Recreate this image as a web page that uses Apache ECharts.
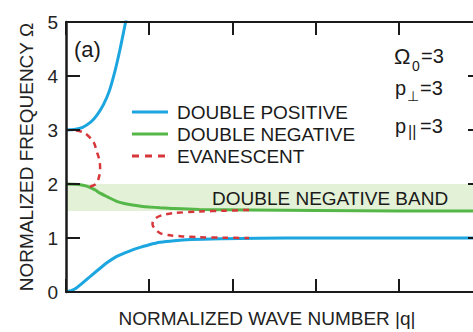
<!DOCTYPE html>
<html>
<head>
<meta charset="utf-8">
<script src="https://cdn.jsdelivr.net/npm/echarts@6/dist/echarts.min.js"></script>
<style>html,body{margin:0;padding:0;background:#fff}#c{width:473px;height:332px}</style>
</head>
<body>
<div id="c"></div>
<script>
// ---- data ----
var xTicks = [0, 1, 2, 3, 4, 5];
var yTicks = [0, 1, 2, 3, 4, 5];
var legendNames = ['DOUBLE POSITIVE', 'DOUBLE NEGATIVE', 'EVANESCENT'];
var blueLower = [[0,0],[0.1,0.05],[0.2,0.17],[0.3,0.3],[0.41,0.44],[0.5,0.55],[0.61,0.66],[0.7,0.72],[0.8,0.78],[0.9,0.83],[1.0,0.875],[1.13,0.92],[1.3,0.95],[1.5,0.97],[1.88,0.985],[2.3,0.995],[3,1.0],[4,1.0],[5,1.0]];
var blueUpper = [[0,3],[0.1,3.01],[0.2,3.05],[0.3,3.15],[0.37,3.27],[0.45,3.47],[0.52,3.72],[0.59,4.1],[0.65,4.5],[0.71,4.95],[0.73,5.1]];
var greenLine = [[0,2],[0.15,1.99],[0.25,1.96],[0.35,1.89],[0.41,1.83],[0.5,1.76],[0.61,1.68],[0.7,1.64],[0.8,1.61],[0.9,1.59],[1.0,1.575],[1.13,1.56],[1.3,1.545],[1.6,1.53],[2.2,1.52],[3,1.51],[4,1.5],[5,1.5]];
var redUpper = [[0.12,2.99],[0.22,2.95],[0.33,2.78],[0.37,2.6],[0.40,2.45],[0.41,2.3],[0.40,2.15],[0.36,2.0],[0.27,1.94]];
var redLower = [[2.2,1.52],[1.9,1.505],[1.61,1.49],[1.28,1.46],[1.15,1.42],[1.08,1.37],[1.045,1.31],[1.04,1.25],[1.07,1.17],[1.13,1.09],[1.25,1.05],[1.4,1.03],[1.6,1.015],[1.9,1.005],[2.2,1.0]];
var bandRange = [1.5, 2.0];
var xTitle = 'NORMALIZED WAVE NUMBER |q|';
var yTitle = 'NORMALIZED FREQUENCY Ω';

var FONT = 'Liberation Sans, Arial, Helvetica, sans-serif';
var BLUE = '#1ba6e0', GREEN = '#55b748', RED = '#d7373b', INK = '#1a1a1a';

var chart = echarts.init(document.getElementById('c'), null, {renderer: 'svg'});

function xAxisCfg(pos, withName) {
  var a = {
    type: 'value', gridIndex: 0, position: pos, z: 20,
    min: xTicks[0], max: xTicks[xTicks.length - 1], interval: 1,
    axisLine: {show: true, onZero: false, lineStyle: {color: INK, width: 2}},
    axisTick: {show: true, inside: true, length: 13, lineStyle: {color: INK, width: 2}},
    axisLabel: {show: false}, splitLine: {show: false}
  };
  if (withName) {
    a.name = xTitle; a.nameLocation = 'middle'; a.nameGap = 17;
    a.nameTextStyle = {fontSize: 19, color: '#222', fontFamily: FONT, padding: [0, 14, 0, 0]};
  }
  return a;
}
function yAxisCfg(pos, withLabels) {
  var a = {
    type: 'value', gridIndex: 0, position: pos, z: 20,
    min: yTicks[0], max: yTicks[yTicks.length - 1], interval: 1,
    axisLine: {show: true, onZero: false, lineStyle: {color: INK, width: 2.5}},
    axisTick: {show: true, inside: true, length: 14, lineStyle: {color: INK, width: 2}},
    axisLabel: {show: withLabels, margin: 8, fontSize: 19, color: '#222', fontFamily: FONT},
    splitLine: {show: false}
  };
  if (withLabels) {
    a.name = yTitle; a.nameLocation = 'middle'; a.nameGap = 30;
    a.nameTextStyle = {fontSize: 19, color: '#222', fontFamily: FONT};
  }
  return a;
}

function lineSeries(name, data, color, dashed) {
  return {
    type: 'line', name: name, data: data, symbol: 'none', smooth: 0.3,
    xAxisIndex: 0, yAxisIndex: 0,
    lineStyle: {color: color, width: dashed ? 2.5 : 3, type: dashed ? [6, 5] : 'solid'},
    itemStyle: {color: color}, z: dashed ? 4 : 3
  };
}

var greenS = lineSeries(legendNames[1], greenLine, GREEN, false);
greenS.markArea = {
  silent: true, itemStyle: {color: '#e3f1d6'},
  data: [[{yAxis: bandRange[0]}, {yAxis: bandRange[1]}]]
};

function txt(x, y, s, size) {
  return {type: 'text', x: x, y: y, z: 10, style: {text: s, fontSize: size, fontFamily: FONT, fill: '#1a1a1a', verticalAlign: 'middle', align: 'left'}};
}

var SOLID_ICON = 'path://M0,0H36V3H0Z';
var DASH_ICON = 'path://M0,0H7V3H0Z M13,0H20V3H13Z M26,0H33V3H26Z M35.9,0H36V3H35.9Z';

chart.setOption({
  animation: false,
  grid: {left: 66, top: 22, width: 416, height: 270, outerBoundsMode: 'none', containLabel: false},
  xAxis: [xAxisCfg('bottom', true), xAxisCfg('top', false)],
  yAxis: [yAxisCfg('left', true), yAxisCfg('right', false)],
  legend: {
    data: [
      {name: legendNames[0], icon: SOLID_ICON},
      {name: legendNames[1], icon: SOLID_ICON},
      {name: legendNames[2], icon: DASH_ICON}
    ],
    orient: 'vertical', left: 127, top: 96, itemGap: 0,
    itemWidth: 36, itemHeight: 3,
    textStyle: {fontSize: 19, color: '#1a1a1a', fontFamily: FONT, lineHeight: 22, padding: [0, 0, 0, 4]}
  },
  series: [
    lineSeries(legendNames[0], blueLower, BLUE, false),
    lineSeries(legendNames[0], blueUpper, BLUE, false),
    greenS,
    lineSeries(legendNames[2], redUpper, RED, true),
    lineSeries(legendNames[2], redLower, RED, true)
  ],
  graphic: [
    txt(74, 49, '(a)', 22),
    txt(212, 198, 'DOUBLE NEGATIVE BAND', 19),
    txt(394, 56, 'Ω', 22), txt(412, 66, '0', 14), txt(421, 56, '=3', 20),
    txt(395, 88, 'p', 20), txt(407, 96, '⊥', 14), txt(420, 88, '=3', 20),
    txt(395, 126, 'p', 20), txt(408, 131, '||', 16), txt(420, 126, '=3', 20)
  ]
});
</script>
</body>
</html>
